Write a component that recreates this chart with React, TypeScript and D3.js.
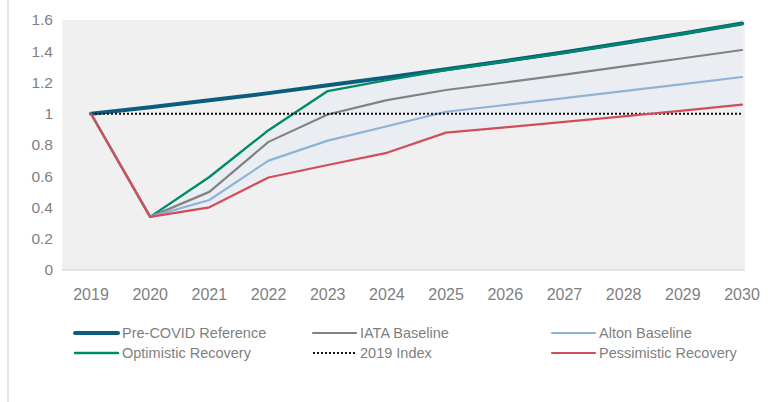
import React from "react";
import * as d3 from "d3";

const years = [2019, 2020, 2021, 2022, 2023, 2024, 2025, 2026, 2027, 2028, 2029, 2030];
const preCovid = [1.0, 1.042, 1.086, 1.132, 1.182, 1.232, 1.285, 1.338, 1.394, 1.453, 1.514, 1.578];
const optimistic = [1.0, 0.34, 0.595, 0.895, 1.145, 1.215, 1.28, 1.335, 1.39, 1.45, 1.512, 1.576];
const iata = [1.0, 0.34, 0.5, 0.82, 0.995, 1.087, 1.152, 1.2, 1.25, 1.303, 1.355, 1.408];
const alton = [1.0, 0.34, 0.448, 0.7, 0.828, 0.92, 1.013, 1.056, 1.1, 1.145, 1.19, 1.235];
const pessimistic = [1.0, 0.34, 0.401, 0.592, 0.672, 0.75, 0.879, 0.913, 0.948, 0.983, 1.02, 1.058];
const index2019 = [1, 1, 1, 1, 1, 1, 1, 1, 1, 1, 1, 1];
const yTicks = [0, 0.2, 0.4, 0.6, 0.8, 1, 1.2, 1.4, 1.6];

const FONT = "'Liberation Sans', Arial, sans-serif";
const TXT = "#7f7f7f";
const DOT = "2 2";

export default function App() {
  const x = d3.scalePoint<number>().domain(years).range([91, 742]);
  const y = d3.scaleLinear().domain([0, 1.6]).range([270, 20]);
  const line = (vals: number[]) =>
    d3.line<number>().x((_, i) => x(years[i]) as number).y((d) => y(d))(vals) || "";
  const band =
    d3
      .area<number>()
      .x((_, i) => x(years[i]) as number)
      .y0((_, i) => y(pessimistic[i]))
      .y1((_, i) => y(optimistic[i]))(years.map((_, i) => i)) || "";

  const series = [
    { name: "Pre-COVID Reference", vals: preCovid, color: "#0c5c7e", w: 4, dash: undefined },
    { name: "Optimistic Recovery", vals: optimistic, color: "#008a6a", w: 2.4, dash: undefined },
    { name: "IATA Baseline", vals: iata, color: "#828282", w: 2.2, dash: undefined },
    { name: "Alton Baseline", vals: alton, color: "#8fb2d6", w: 2.2, dash: undefined },
    { name: "2019 Index", vals: index2019, color: "#111111", w: 2.2, dash: DOT },
    { name: "Pessimistic Recovery", vals: pessimistic, color: "#d24d59", w: 2.2, dash: undefined },
  ];

  const legend = [
    { name: "Pre-COVID Reference", color: "#0c5c7e", w: 4, dash: undefined, lx: 75, row: 0 },
    { name: "IATA Baseline", color: "#828282", w: 2.2, dash: undefined, lx: 313, row: 0 },
    { name: "Alton Baseline", color: "#8fb2d6", w: 2.2, dash: undefined, lx: 552, row: 0 },
    { name: "Optimistic Recovery", color: "#008a6a", w: 2.4, dash: undefined, lx: 75, row: 1 },
    { name: "2019 Index", color: "#111111", w: 2.2, dash: DOT, lx: 313, row: 1 },
    { name: "Pessimistic Recovery", color: "#d24d59", w: 2.2, dash: undefined, lx: 552, row: 1 },
  ];

  return (
    <div style={{ position: "absolute", left: 0, top: 0 }}>
      <svg width={768} height={402} style={{ display: "block", background: "#ffffff" }}>
        <line x1={8} x2={8} y1={0} y2={402} stroke="#d9d9d9" strokeWidth={1.5} />
        <rect x={62} y={20} width={683} height={250} fill="#f0f0f0" />
        <path d={band} fill="#eaeef2" />
        <line x1={62} x2={745} y1={y(0)} y2={y(0)} stroke="#dcdcdc" strokeWidth={1.5} />
        {yTicks.map((t) => (
          <text
            key={t}
            x={53}
            y={y(t)}
            dy="0.35em"
            textAnchor="end"
            fontFamily={FONT}
            fontSize={15.5}
            fill={TXT}
          >
            {String(t)}
          </text>
        ))}
        {years.map((yr) => (
          <text
            key={yr}
            x={x(yr) as number}
            y={294}
            dy="0.35em"
            textAnchor="middle"
            fontFamily={FONT}
            fontSize={16}
            fill={TXT}
          >
            {yr}
          </text>
        ))}
        {series.map((s) => (
          <path
            key={s.name}
            d={line(s.vals)}
            fill="none"
            stroke={s.color}
            strokeWidth={s.w}
            strokeDasharray={s.dash}
            strokeLinejoin="round"
            strokeLinecap={s.dash ? "butt" : "round"}
          />
        ))}
        {legend.map((l) => {
          const ly = 333 + l.row * 20;
          return (
            <g key={l.name}>
              <line
                x1={l.lx}
                x2={l.lx + 43}
                y1={ly}
                y2={ly}
                stroke={l.color}
                strokeWidth={l.w}
                strokeDasharray={l.dash}
                strokeLinecap={l.dash ? "butt" : "round"}
              />
              <text
                x={l.lx + 47}
                y={ly}
                dy="0.35em"
                fontFamily={FONT}
                fontSize={14.5}
                fill={TXT}
              >
                {l.name}
              </text>
            </g>
          );
        })}
      </svg>
    </div>
  );
}
